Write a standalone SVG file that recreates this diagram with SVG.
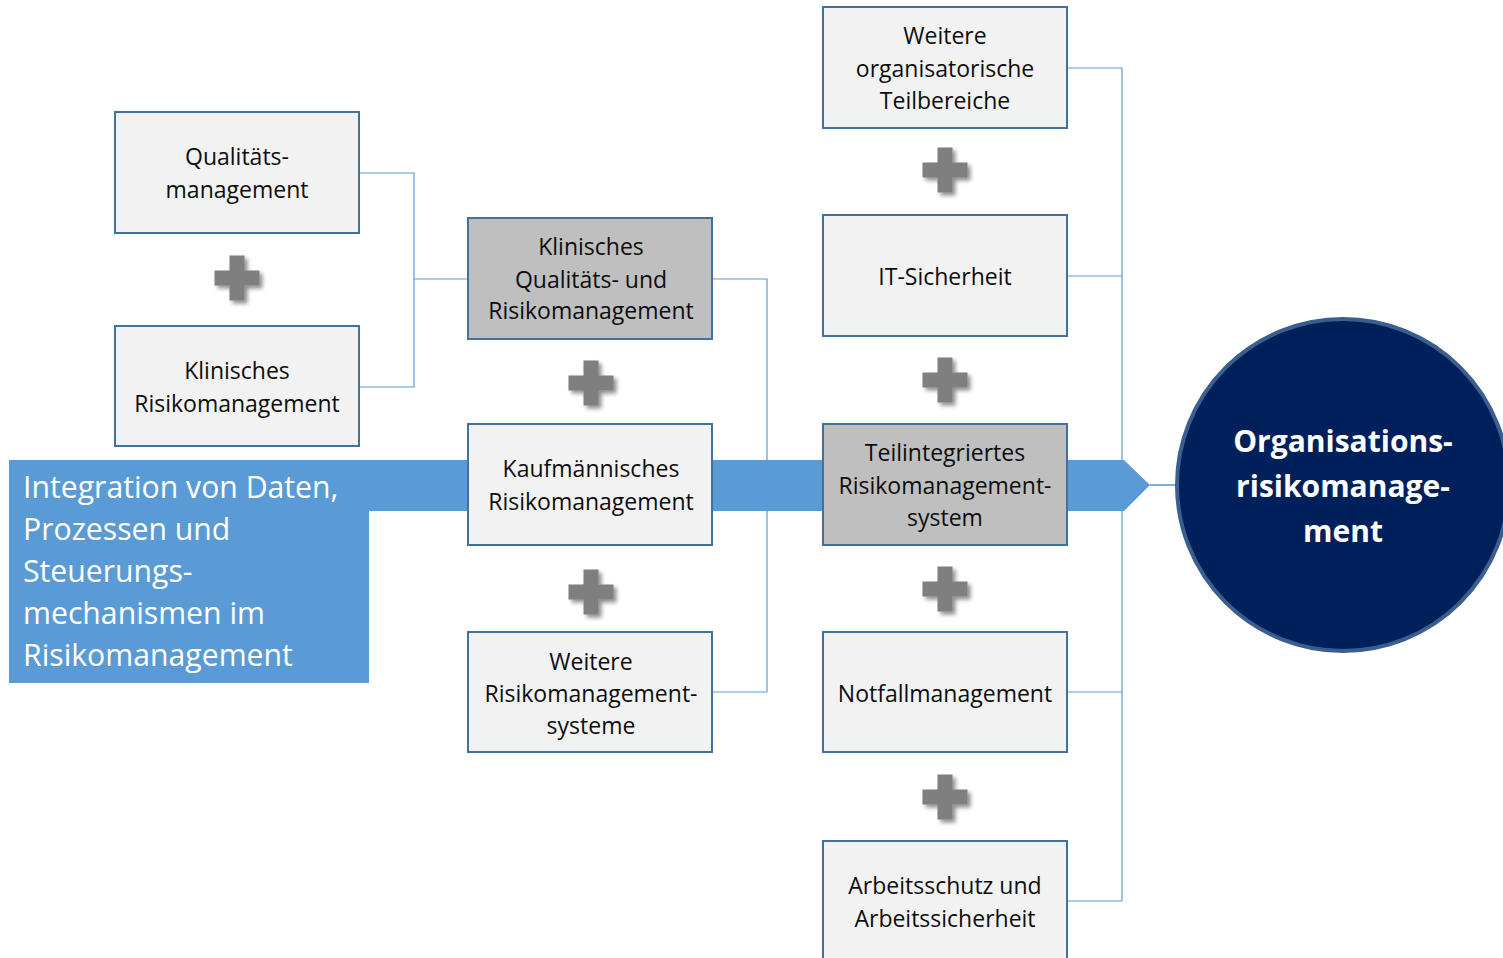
<svg xmlns="http://www.w3.org/2000/svg" width="1503" height="958" viewBox="0 0 1503 958">
<style>
.box{fill:#F2F2F2;stroke:#41719C;stroke-width:2}
.dark{fill:#BFBFBF;stroke:#41719C;stroke-width:2}
.t{font-family:"Open Sans","Liberation Sans",sans-serif;font-size:23px;fill:#0D0D0D;text-anchor:middle}
.c{fill:none;stroke:#5B9BD5;stroke-width:1.2}
.w{font-family:"Open Sans","Liberation Sans",sans-serif;font-size:30.2px;fill:#FFFFFF}
.cw{font-family:"Open Sans","Liberation Sans",sans-serif;font-size:30px;font-weight:bold;fill:#FFFFFF;text-anchor:middle}
</style>
<defs>
<filter id="sh" x="-30%" y="-30%" width="160%" height="160%">
<feGaussianBlur in="SourceAlpha" stdDeviation="2"/>
<feOffset dx="3" dy="3" result="b"/>
<feComponentTransfer><feFuncA type="linear" slope="0.45"/></feComponentTransfer>
<feMerge><feMergeNode/><feMergeNode in="SourceGraphic"/></feMerge>
</filter>
<path id="plus" d="M-7.5,-22.5h15v15h15v15h-15v15h-15v-15h-15v-15h15z" fill="#7F7F7F" filter="url(#sh)"/>
</defs>
<rect width="1503" height="958" fill="#FFFFFF"/>

<g id="connectors">
<polyline class="c" points="359,173 414,173 414,387 359,387"/>
<line class="c" x1="414" y1="279" x2="468" y2="279"/>
<polyline class="c" points="712,279 767,279 767,692 712,692"/>
<line class="c" x1="1122" y1="68" x2="1122" y2="901"/>
<line class="c" x1="1067" y1="68" x2="1122" y2="68"/>
<line class="c" x1="1067" y1="276" x2="1122" y2="276"/>
<line class="c" x1="1067" y1="692" x2="1122" y2="692"/>
<line class="c" x1="1067" y1="901" x2="1122" y2="901"/>
</g>

<g id="band">
<rect x="9" y="460" width="360" height="223" fill="#5B9BD5"/>
<polygon points="369,460 1124,460 1150,485 1124,511 369,511" fill="#5B9BD5"/>
<line x1="1150" y1="485" x2="1180" y2="485" stroke="#7AAEDD" stroke-width="2"/>
<text class="w" x="23" y="498">Integration von Daten,</text>
<text class="w" x="23" y="540">Prozessen und</text>
<text class="w" x="23" y="582">Steuerungs-</text>
<text class="w" x="23" y="624">mechanismen im</text>
<text class="w" x="23" y="666">Risikomanagement</text>
</g>

<g id="n-qm"><rect class="box" x="115" y="112" width="244" height="121"/>
<text class="t" x="237" y="165">Qualitäts-</text><text class="t" x="237" y="198">management</text></g>
<g id="n-krm"><rect class="box" x="115" y="326" width="244" height="120"/>
<text class="t" x="237" y="379">Klinisches</text><text class="t" x="237" y="412">Risikomanagement</text></g>
<g id="n-kqrm"><rect class="dark" x="468" y="218" width="244" height="121"/>
<text class="t" x="591" y="255">Klinisches</text><text class="t" x="591" y="288">Qualitäts- und</text><text class="t" x="591" y="319">Risikomanagement</text></g>
<g id="n-kfm"><rect class="box" x="468" y="424" width="244" height="121"/>
<text class="t" x="591" y="477">Kaufmännisches</text><text class="t" x="591" y="510">Risikomanagement</text></g>
<g id="n-wrm"><rect class="box" x="468" y="632" width="244" height="120"/>
<text class="t" x="591" y="670">Weitere</text><text class="t" x="591" y="702">Risikomanagement-</text><text class="t" x="591" y="734">systeme</text></g>
<g id="n-wot"><rect class="box" x="823" y="7" width="244" height="121"/>
<text class="t" x="945" y="44">Weitere</text><text class="t" x="945" y="77">organisatorische</text><text class="t" x="945" y="109">Teilbereiche</text></g>
<g id="n-it"><rect class="box" x="823" y="215" width="244" height="121"/>
<text class="t" x="945" y="285">IT-Sicherheit</text></g>
<g id="n-tirm"><rect class="dark" x="823" y="424" width="244" height="121"/>
<text class="t" x="945" y="461">Teilintegriertes</text><text class="t" x="945" y="494">Risikomanagement-</text><text class="t" x="945" y="526">system</text></g>
<g id="n-nfm"><rect class="box" x="823" y="632" width="244" height="120"/>
<text class="t" x="945" y="702">Notfallmanagement</text></g>
<g id="n-as"><rect class="box" x="823" y="841" width="244" height="130"/>
<text class="t" x="945" y="894">Arbeitsschutz und</text><text class="t" x="945" y="927">Arbeitssicherheit</text></g>

<g id="plusses">
<use href="#plus" x="237" y="278"/>
<use href="#plus" x="591" y="383"/>
<use href="#plus" x="591" y="592"/>
<use href="#plus" x="945" y="170"/>
<use href="#plus" x="945" y="380"/>
<use href="#plus" x="945" y="589"/>
<use href="#plus" x="945" y="797"/>
</g>

<g id="n-orm">
<circle cx="1343" cy="485" r="166" fill="#00205B" stroke="#3A5F8F" stroke-width="4"/>
<text class="cw" x="1343" y="452">Organisations-</text>
<text class="cw" x="1343" y="497">risikomanage-</text>
<text class="cw" x="1343" y="542">ment</text>
</g>
</svg>
